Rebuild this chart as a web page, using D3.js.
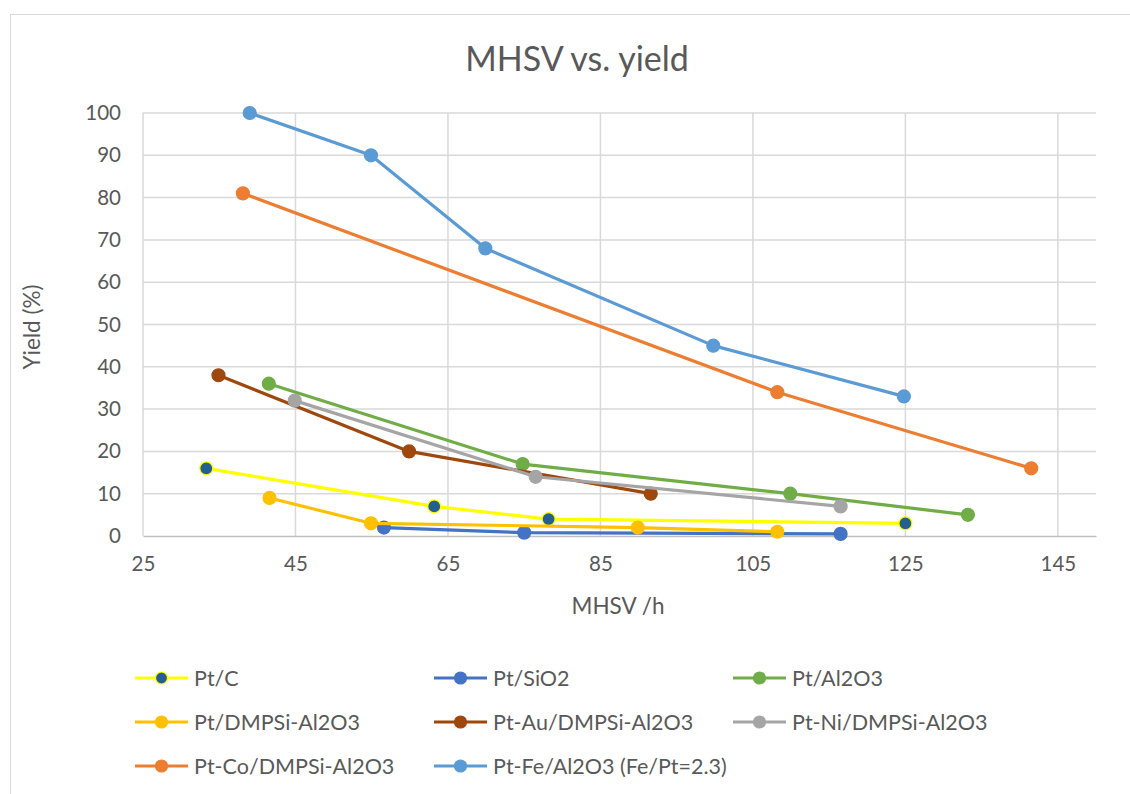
<!DOCTYPE html>
<html>
<head>
<meta charset="utf-8">
<script src="https://cdn.jsdelivr.net/npm/d3@7"></script>
<style>
  html, body { margin: 0; padding: 0; background: #fff; }
  svg text { font-family: Lato, "Open Sans", sans-serif; fill: #595959; }
</style>
</head>
<body>
<svg id="chart" width="1130" height="794"></svg>
<script>
// MHSV (/h) and yield (%) for each catalyst
const seriesNames = [
  "Pt/C", "Pt/SiO2", "Pt/Al2O3",
  "Pt/DMPSi-Al2O3", "Pt-Au/DMPSi-Al2O3", "Pt-Ni/DMPSi-Al2O3",
  "Pt-Co/DMPSi-Al2O3", "Pt-Fe/Al2O3 (Fe/Pt=2.3)"
];
const ptC_mhsv = [33.3, 63.2, 78.2, 125];
const ptC_yield = [16, 7, 4, 3];
const ptSiO2_mhsv = [56.6, 75, 116.5];
const ptSiO2_yield = [2, 0.8, 0.5];
const ptAl2O3_mhsv = [41.5, 74.8, 109.9, 133.2];
const ptAl2O3_yield = [36, 17, 10, 5];
const ptDMPSi_mhsv = [41.6, 54.9, 89.9, 108.2];
const ptDMPSi_yield = [9, 3, 2, 1];
const ptAu_mhsv = [34.9, 59.9, 91.6];
const ptAu_yield = [38, 20, 10];
const ptNi_mhsv = [44.9, 76.5, 116.5];
const ptNi_yield = [32, 14, 7];
const ptCo_mhsv = [38.1, 108.2, 141.5];
const ptCo_yield = [81, 34, 16];
const ptFe_mhsv = [39, 54.9, 69.9, 99.8, 124.8];
const ptFe_yield = [100, 90, 68, 45, 33];

const xTicks = [25, 45, 65, 85, 105, 125, 145];
const yTicks = [0, 10, 20, 30, 40, 50, 60, 70, 80, 90, 100];

const lineColors = ["#FFFF00", "#4472C4", "#70AD47", "#FFC000", "#9E480E", "#A5A5A5", "#ED7D31", "#5B9BD5"];
const markerFills = ["#255E91", "#4472C4", "#70AD47", "#FFC000", "#9E480E", "#A5A5A5", "#ED7D31", "#5B9BD5"];

const xs = [ptC_mhsv, ptSiO2_mhsv, ptAl2O3_mhsv, ptDMPSi_mhsv, ptAu_mhsv, ptNi_mhsv, ptCo_mhsv, ptFe_mhsv];
const ys = [ptC_yield, ptSiO2_yield, ptAl2O3_yield, ptDMPSi_yield, ptAu_yield, ptNi_yield, ptCo_yield, ptFe_yield];
const series = seriesNames.map((name, i) => ({
  name, line: lineColors[i], fill: markerFills[i],
  points: xs[i].map((x, j) => ({ x, y: ys[i][j] }))
}));

const svg = d3.select("#chart");
const plot = { left: 143, right: 1096, top: 113, bottom: 536 };

// chart frame
svg.append("rect")
  .attr("x", 10.5).attr("y", 14.5)
  .attr("width", 1140).attr("height", 800)
  .attr("fill", "#fff").attr("stroke", "#D9D9D9").attr("stroke-width", 1);

const x = d3.scaleLinear().domain([25, 150]).range([plot.left, plot.right]);
const y = d3.scaleLinear().domain([0, 100]).range([plot.bottom, plot.top]);

// gridlines
const grid = svg.append("g");
grid.selectAll("line.h").data(yTicks.filter(d => d > 0)).join("line")
  .attr("x1", plot.left).attr("x2", plot.right)
  .attr("y1", d => y(d)).attr("y2", d => y(d))
  .attr("stroke", "#D9D9D9").attr("stroke-width", 1.5);
grid.selectAll("line.v").data(xTicks).join("line")
  .attr("x1", d => x(d)).attr("x2", d => x(d))
  .attr("y1", plot.top).attr("y2", plot.bottom)
  .attr("stroke", "#D9D9D9").attr("stroke-width", 1.5);

// x axis
const xAxis = svg.append("g")
  .attr("transform", `translate(0,${plot.bottom})`)
  .call(d3.axisBottom(x).tickValues(xTicks).tickSize(0).tickPadding(20));
xAxis.select(".domain").attr("stroke", "#BFBFBF").attr("stroke-width", 1.5);
xAxis.selectAll("text").attr("font-size", 20.5).attr("fill", "#595959")
  .style("font-family", "Lato, sans-serif");

// y axis
const yAxis = svg.append("g")
  .attr("transform", `translate(${plot.left},0)`)
  .call(d3.axisLeft(y).tickValues(yTicks).tickSize(0).tickPadding(22));
yAxis.select(".domain").remove();
yAxis.selectAll("text").attr("font-size", 20.5).attr("fill", "#595959")
  .style("font-family", "Lato, sans-serif");

// titles
svg.append("text").attr("x", 577).attr("y", 71).attr("text-anchor", "middle")
  .attr("font-size", 34).text("MHSV vs. yield");
svg.append("text").attr("x", 618).attr("y", 614).attr("text-anchor", "middle")
  .attr("font-size", 22.5).text("MHSV /h");
svg.append("text").attr("transform", "translate(40,327) rotate(-90)")
  .attr("text-anchor", "middle").attr("font-size", 22.5).text("Yield (%)");

// series lines and markers
const line = d3.line().x(d => x(d.x)).y(d => y(d.y));
const sg = svg.append("g").selectAll("g").data(series).join("g");
sg.append("path")
  .attr("d", d => line(d.points))
  .attr("fill", "none").attr("stroke", d => d.line)
  .attr("stroke-width", 3.2).attr("stroke-linejoin", "round");
sg.each(function (s) {
  d3.select(this).selectAll("circle").data(s.points).join("circle")
    .attr("cx", d => x(d.x)).attr("cy", d => y(d.y)).attr("r", 6.5)
    .attr("fill", s.fill).attr("stroke", s.line).attr("stroke-width", 1.2);
});

// legend
const legCols = [135, 434, 733];
const legRows = [678, 722, 766];
const leg = svg.append("g").selectAll("g").data(series).join("g")
  .attr("transform", (d, i) => `translate(${legCols[i % 3]},${legRows[Math.floor(i / 3)]})`);
leg.append("line").attr("x1", 0).attr("x2", 53).attr("y1", 0).attr("y2", 0)
  .attr("stroke", d => d.line).attr("stroke-width", 3.2);
leg.append("circle").attr("cx", 26.5).attr("cy", 0).attr("r", 6)
  .attr("fill", d => d.fill).attr("stroke", d => d.line).attr("stroke-width", 1.2);
leg.append("text").attr("x", 59).attr("y", 0).attr("dy", "0.35em")
  .attr("font-size", 21.5).text(d => d.name);
</script>
</body>
</html>
